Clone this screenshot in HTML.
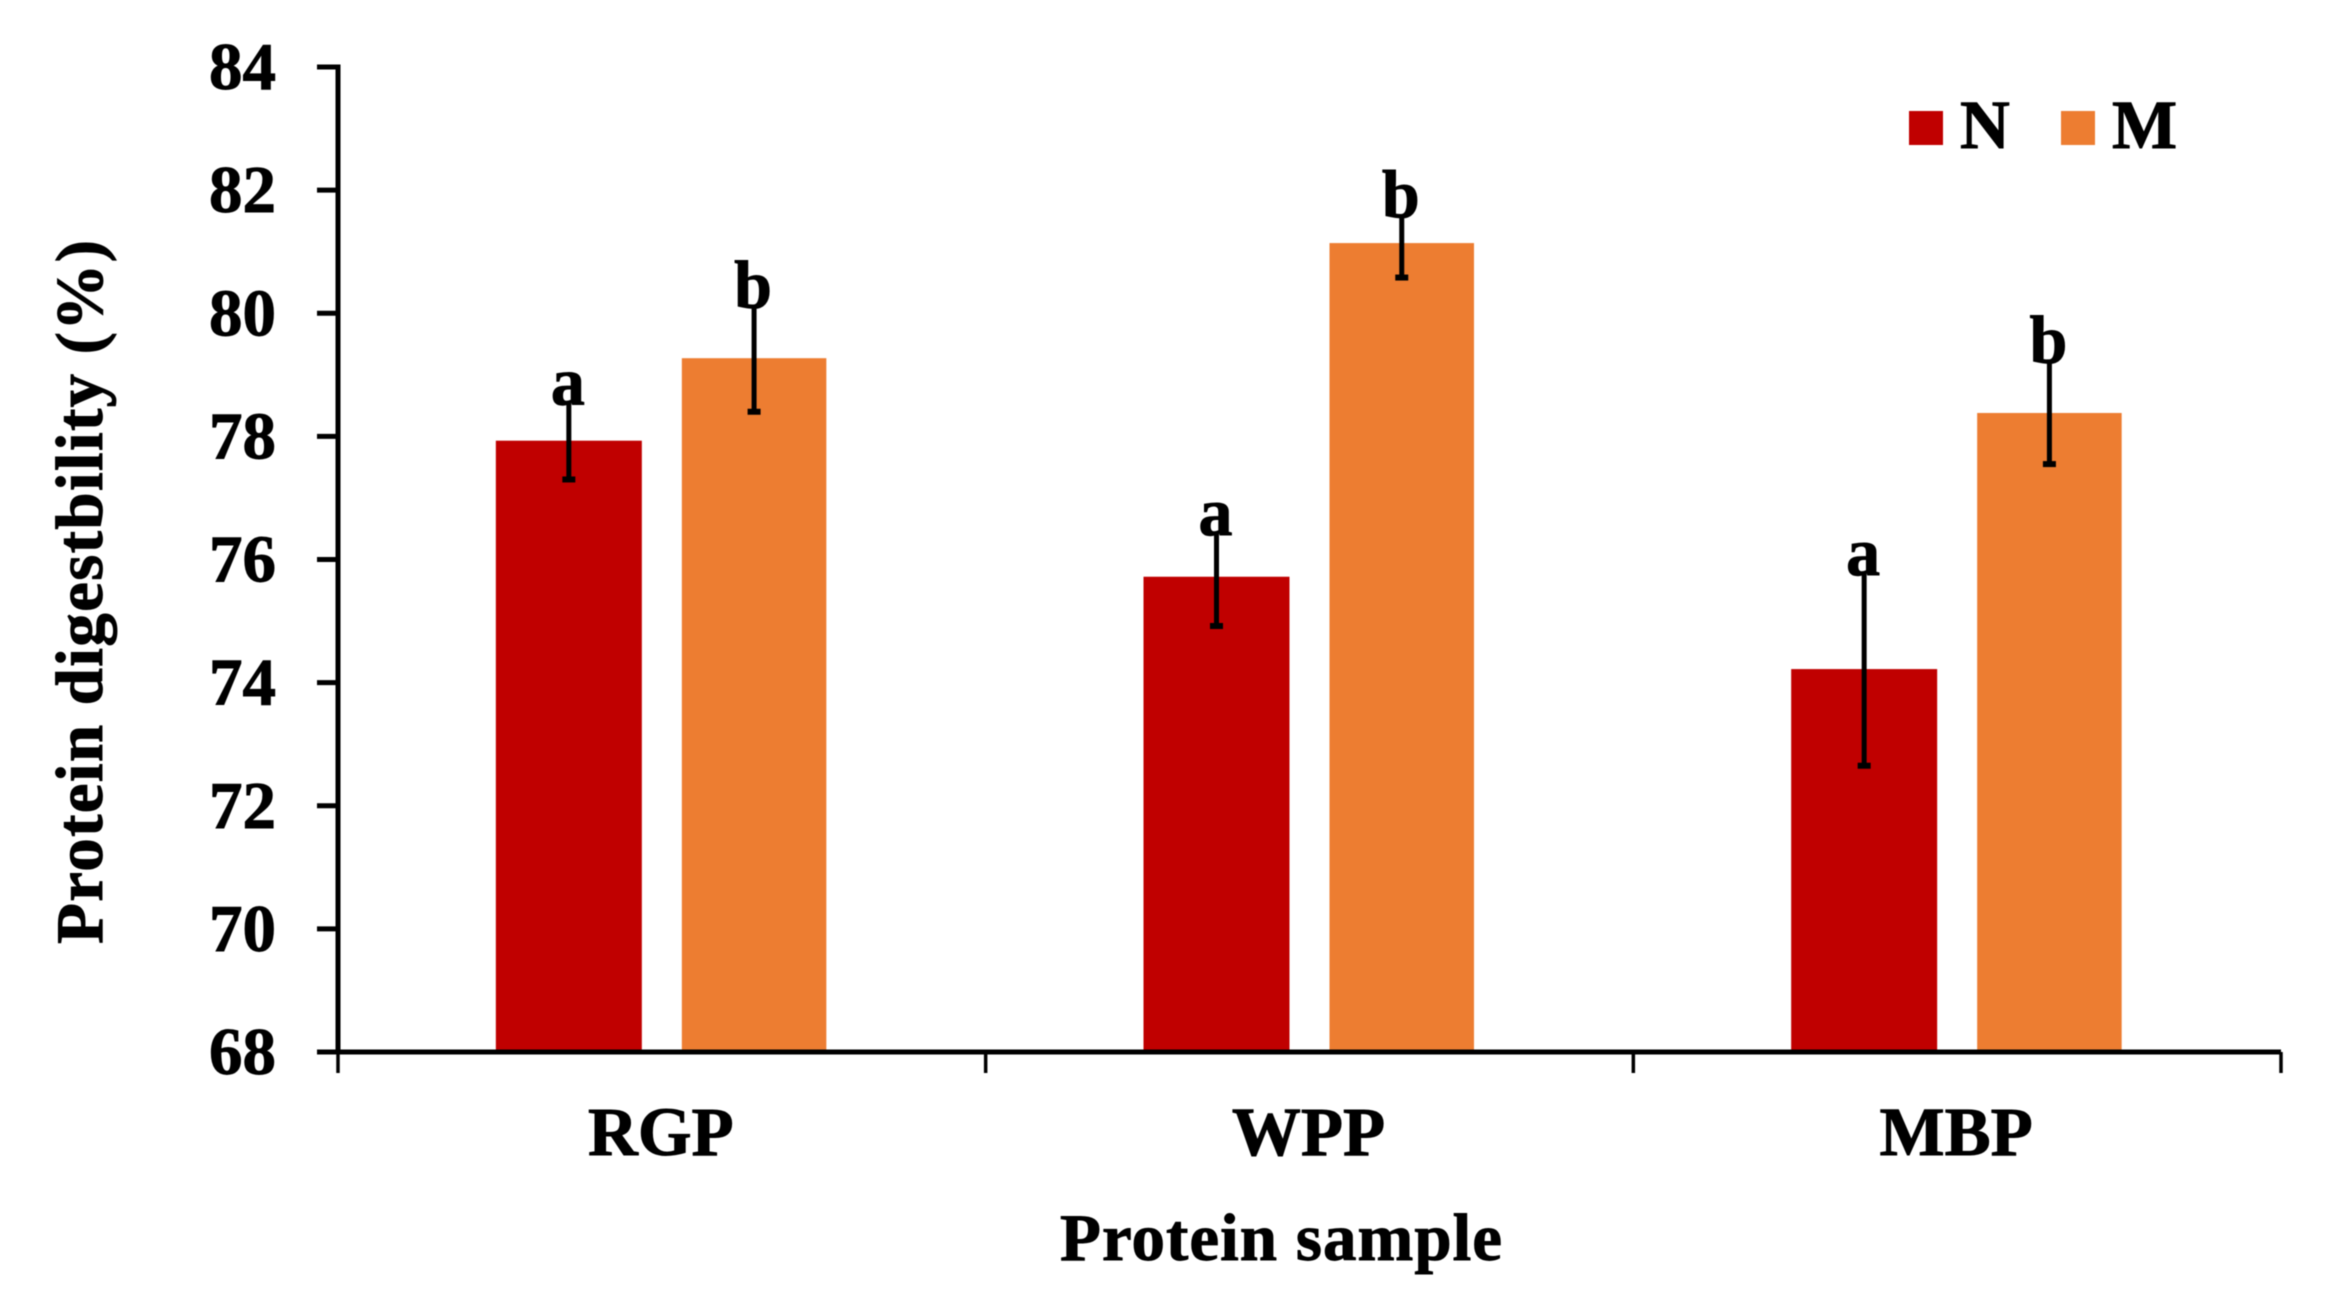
<!DOCTYPE html>
<html lang="en">
<head>
<meta charset="utf-8">
<title>Protein digestibility chart</title>
<style>
html,body{margin:0;padding:0;background:#fff;width:2339px;height:1315px;overflow:hidden}
svg{display:block;filter:blur(0.6px)}
text{font-family:"Liberation Serif","DejaVu Serif",serif;font-weight:bold;fill:#000;stroke:#000;stroke-width:0.9px}
</style>
</head>
<body>
<svg id="chart" xmlns="http://www.w3.org/2000/svg" width="2339" height="1315" viewBox="0 0 2339 1315">
  <rect x="0" y="0" width="2339" height="1315" fill="#ffffff"/>
  <g id="bars"></g>
  <g id="errors"></g>
  <g id="axes"></g>
  <g id="labels"></g>
  <text transform="translate(102,592) rotate(-90)" text-anchor="middle" font-size="67" textLength="704" lengthAdjust="spacing">Protein digestbility (%)</text>
  <text x="1281" y="1260" text-anchor="middle" font-size="67" textLength="442" lengthAdjust="spacing">Protein sample</text>
  <g>
    <rect x="1909" y="111" width="34" height="34" fill="#C00000"/>
    <text x="1960" y="148" font-size="69">N</text>
    <rect x="2061" y="111" width="34" height="34" fill="#ED7D31"/>
    <text x="2112" y="148" font-size="69">M</text>
  </g>
</svg>
<script>
const categories = ["RGP", "WPP", "MBP"];
const seriesNames = ["N", "M"];
const valuesN = [77.93, 75.72, 74.22];
const valuesM = [79.27, 81.14, 78.38];
const errUpperN = [0.64, 0.73, 1.58];
const errLowerN = [0.63, 0.80, 1.57];
const errUpperM = [0.87, 0.47, 0.87];
const errLowerM = [0.87, 0.56, 0.83];
const lettersN = ["a", "a", "a"];
const lettersM = ["b", "b", "b"];
const yTicks = [68, 70, 72, 74, 76, 78, 80, 82, 84];

const SVGNS = "http://www.w3.org/2000/svg";
const plot = { left: 338, right: 2281, top: 67, bottom: 1052, yMin: 68, yMax: 84 };
const colors = ["#C00000", "#ED7D31"];
const barWidths = [146, 144.5];
const barOffset = 20;

function y(v) {
  return plot.bottom - (v - plot.yMin) / (plot.yMax - plot.yMin) * (plot.bottom - plot.top);
}
function bandEdge(i) {
  return plot.left + i * (plot.right - plot.left) / categories.length;
}
function bandCenter(i) {
  return (bandEdge(i) + bandEdge(i + 1)) / 2;
}
function make(tag, attrs, parent) {
  const el = document.createElementNS(SVGNS, tag);
  for (const k in attrs) el.setAttribute(k, attrs[k]);
  parent.appendChild(el);
  return el;
}

const barsG = document.getElementById("bars");
const errG = document.getElementById("errors");
const axesG = document.getElementById("axes");
const labelsG = document.getElementById("labels");

const seriesValues = [valuesN, valuesM];
const seriesUpper = [errUpperN, errUpperM];
const seriesLower = [errLowerN, errLowerM];
const seriesLetters = [lettersN, lettersM];

categories.forEach(function (cat, i) {
  seriesNames.forEach(function (name, s) {
    const v = seriesValues[s][i];
    const bw = barWidths[s];
    const x0 = s === 0 ? bandCenter(i) - barOffset - bw : bandCenter(i) + barOffset;
    const cx = x0 + bw / 2;
    const bar = make("rect", { x: x0, y: y(v), width: bw, height: plot.bottom - y(v), fill: colors[s] }, barsG);
    
    

    const top = y(v + seriesUpper[s][i]);
    const bottom = y(v - seriesLower[s][i]);
    const stem = make("line", { x1: cx, x2: cx, y1: top, y2: bottom, stroke: "#000", "stroke-width": 5 }, errG);
    
    
    const cap = make("line", { x1: cx - 6.5, x2: cx + 6.5, y1: bottom, y2: bottom, stroke: "#000", "stroke-width": 6 }, errG);
    
    

    const label = make("text", { x: cx - 1, y: top + 3, "text-anchor": "middle", "font-size": 68 }, labelsG);
    label.textContent = seriesLetters[s][i];
    
    
  });

  const catLabel = make("text", { x: bandCenter(i) - 1, y: 1155, "text-anchor": "middle", "font-size": 69 }, axesG);
  catLabel.textContent = cat;
  
  
});

const yAxis = make("line", { x1: plot.left, x2: plot.left, y1: plot.top - 2.5, y2: plot.bottom, stroke: "#000", "stroke-width": 5 }, axesG);



const xAxis = make("line", { x1: plot.left, x2: plot.right, y1: plot.bottom, y2: plot.bottom, stroke: "#000", "stroke-width": 5 }, axesG);



yTicks.forEach(function (t) {
  const tick = make("line", { x1: plot.left - 21, x2: plot.left, y1: y(t), y2: y(t), stroke: "#000", "stroke-width": 5 }, axesG);
  
  
  const lab = make("text", { x: 276, y: y(t) + 22, "text-anchor": "end", "font-size": 67 }, axesG);
  lab.textContent = String(t);
  
  
});

for (let i = 0; i <= categories.length; i++) {
  const tick = make("line", { x1: bandEdge(i), x2: bandEdge(i), y1: plot.bottom, y2: plot.bottom + 21, stroke: "#000", "stroke-width": 3.5 }, axesG);
  
  
}
</script>
</body>
</html>
